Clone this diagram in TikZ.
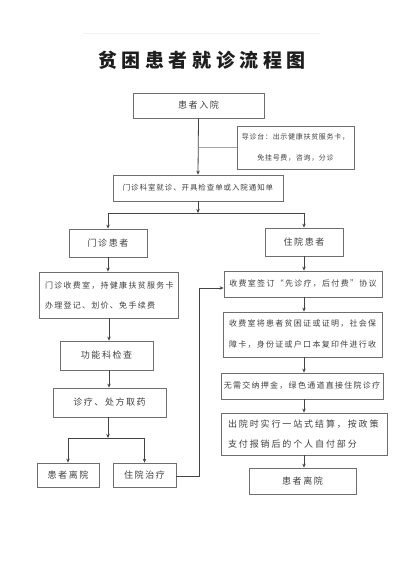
\documentclass[tikz,border=0pt]{standalone}
\usepackage{fontspec}
\setmainfont{Noto Sans CJK SC}
\newfontfamily\fT[LetterSpace=24]{Noto Sans CJK SC}
\newfontfamily\fA[LetterSpace=17]{Noto Sans CJK SC}
\newfontfamily\fB[LetterSpace=12]{Noto Sans CJK SC}
\newfontfamily\fC[LetterSpace=10]{Noto Sans CJK SC}
\newfontfamily\fD[LetterSpace=16]{Noto Sans CJK SC}
\newfontfamily\fE[LetterSpace=21]{Noto Sans CJK SC}
\usetikzlibrary{arrows.meta}
\definecolor{boxc}{HTML}{6E6E6E}
\definecolor{linec}{HTML}{444444}
\definecolor{txtc}{HTML}{404040}
\definecolor{titlec}{HTML}{1E1E1E}
\tikzset{
  box/.style={draw=boxc, line width=0.8pt, rectangle, inner sep=0pt, text=txtc, anchor=center},
  conn/.style={draw=linec, line width=0.8pt},
  arr/.style={conn, -{Stealth[length=4pt,width=3.5pt]}},
  big/.style={font=\fontsize{9}{11}\selectfont\fA},
}
\begin{document}
\begin{tikzpicture}[x=1pt,y=-1pt]
\useasboundingbox[fill=white] (0,0) rectangle (400,565);
\draw[gray!10, line width=0.6pt] (83,33) -- (320,33);
\node[font=\fontsize{19}{22}\selectfont\fT\bfseries, text=titlec] (title) at (202,60) {贫困患者就诊流程图};

\node[box, big, minimum width=131pt, minimum height=25pt] (in) at (198.5,105.5) {患者入院};
\node[box, font=\fontsize{7}{21}\selectfont\fC, minimum width=117pt, minimum height=43pt, align=center] (guide) at (295.5,147.5) {导诊台：出示健康扶贫服务卡，\\免挂号费，咨询，分诊};
\node[box, font=\fontsize{7.5}{9}\selectfont\fB, minimum width=170pt, minimum height=26pt] (clinic) at (198,188) {门诊科室就诊、开具检查单或入院通知单};
\node[box, big, minimum width=78pt, minimum height=28pt] (op) at (108,243) {门诊患者};
\node[box, big, minimum width=78pt, minimum height=28pt] (ip) at (304,242) {住院患者};

\node[box, font=\fontsize{8}{20}\selectfont\fD, minimum width=139pt, minimum height=46pt, text width=127pt, align=left] (opfee) at (108.5,295) {门诊收费室，持健康扶贫服务卡\\办理登记、划价、免手续费};
\node[box, big, minimum width=93pt, minimum height=29pt] (func) at (106.5,355.5) {功能科检查};
\node[box, big, minimum width=113pt, minimum height=29pt] (drug) at (109.5,402.5) {诊疗、处方取药};
\node[box, big, minimum width=62pt, minimum height=24pt] (leave1) at (68,475) {患者离院};
\node[box, big, minimum width=63pt, minimum height=24pt] (hosp) at (144.5,475) {住院治疗};

\node[box, font=\fontsize{8}{10}\selectfont\fD, minimum width=158pt, minimum height=26pt] (sign) at (303,284) {收费室签订“先诊疗，后付费”协议};
\node[box, font=\fontsize{8}{21}\selectfont\fD, minimum width=159pt, minimum height=45pt, text width=147pt, align=left] (copy) at (302.5,334.5) {收费室将患者贫困证或证明，社会保\\障卡，身份证或户口本复印件进行收};
\node[box, font=\fontsize{8}{10}\selectfont\fD, minimum width=162pt, minimum height=26pt] (free) at (302,386) {无需交纳押金，绿色通道直接住院诊疗};
\node[box, font=\fontsize{9}{20}\selectfont\fE, minimum width=166pt, minimum height=42pt, text width=152pt, align=left] (out) at (304,434) {出院时实行一站式结算，按政策\\支付报销后的个人自付部分};
\node[box, big, minimum width=107pt, minimum height=26pt] (leave2) at (302.5,481) {患者离院};

% connectors
\draw[arr] (in.south) -- (clinic.north);
\draw[conn, draw=gray!70] (guide.west) -- (guide.west -| in.south);
\coordinate (s1) at (198,213);
\draw[arr] (clinic.south) -- (s1);
\draw[conn] (op.north |- s1) -- (ip.north |- s1);
\draw[arr] (op.north |- s1) -- (op.north);
\draw[arr] (ip.north |- s1) -- (ip.north);

\draw[arr] (op.south) -- (opfee.north -| op.south);
\draw[arr] ([xshift=0.5pt]opfee.south) -- ([xshift=0.5pt]opfee.south |- func.north);
\draw[arr] ([xshift=0.5pt]opfee.south |- func.south) -- ([xshift=0.5pt]opfee.south |- drug.north);
\coordinate (s2) at (108,438);
\draw[arr] (s2 |- drug.south) -- (s2);
\draw[conn] (leave1.north |- s2) -- (hosp.north |- s2);
\draw[arr] (leave1.north |- s2) -- (leave1.north);
\draw[arr] (hosp.north |- s2) -- (hosp.north);
\coordinate (c1) at (199,476);
\draw[arr] (hosp.east |- c1) -- (c1) -- (c1 |- 0,288) -- (sign.west |- 0,288);

\draw[arr] (ip.south) -- (ip.south |- sign.north);
\draw[arr] (ip.south |- sign.south) -- (ip.south |- copy.north);
\draw[arr] (ip.south |- copy.south) -- (ip.south |- free.north);
\draw[arr] (ip.south |- free.south) -- (ip.south |- out.north);
\draw[arr] (ip.south |- out.south) -- (ip.south |- leave2.north);
\end{tikzpicture}
\end{document}
